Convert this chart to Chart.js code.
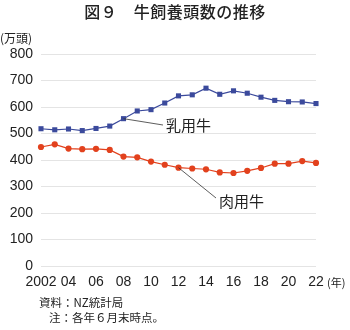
<!DOCTYPE html>
<html>
<head>
<meta charset="utf-8">
<script src="https://cdn.jsdelivr.net/npm/chart.js@4"></script>
<style>
  body { margin: 0; background: #fff; }
  #wrap { position: relative; width: 350px; height: 330px; font-family: "Noto Sans CJK JP", sans-serif; color: #222; }
  #wrap canvas { position: absolute; left: 0; top: 0; }
  .txt { position: absolute; white-space: nowrap; line-height: 1; }
  #title { left: 0; width: 350px; top: 3px; text-align: center; font-size: 16px; font-weight: 500; letter-spacing: 0.5px; }
  #unit { left: 0; top: 32px; font-size: 12px; }
  #nen { left: 327px; top: 277px; font-size: 11px; }
  #lblDairy { left: 166px; top: 117px; font-size: 15px; }
  #lblBeef { left: 219px; top: 193px; font-size: 15px; }
  #src { left: 39px; top: 297px; font-size: 11.5px; }
  #note { left: 49px; top: 312px; font-size: 11.5px; }
</style>
</head>
<body>
<div id="wrap">
  <canvas id="chart" width="350" height="330"></canvas>
  <div class="txt" id="title">図９　牛飼養頭数の推移</div>
  <div class="txt" id="unit">(万頭)</div>
  <div class="txt" id="nen">(年)</div>
  <div class="txt" id="lblDairy">乳用牛</div>
  <div class="txt" id="lblBeef">肉用牛</div>
  <div class="txt" id="src">資料：NZ統計局</div>
  <div class="txt" id="note">注：各年６月末時点。</div>
</div>
<script>
const years = ['2002', '2003', '2004', '2005', '2006', '2007', '2008', '2009', '2010', '2011', '2012',
               '2013', '2014', '2015', '2016', '2017', '2018', '2019', '2020', '2021', '2022'];
const yearLabels = ['2002', '', '04', '', '06', '', '08', '', '10', '', '12',
                    '', '14', '', '16', '', '18', '', '20', '', '22'];
const dairy = [518, 514, 517, 511, 519, 528, 556, 585, 590, 615, 642, 646, 671, 648, 661, 652, 637, 625, 620, 619, 613];
const beef = [449, 459, 443, 441, 442, 438, 413, 410, 394, 382, 371, 368, 365, 353, 351, 359, 370, 386, 386, 396, 389];
const yTicks = [0, 100, 200, 300, 400, 500, 600, 700, 800];

const BLUE = '#3b4a9c';
const RED = '#e2411d';

// leader lines from a data point to its label
const leaderLines = {
    id: 'leaderLines',
    afterDatasetsDraw(chart) {
        const ctx = chart.ctx;
        const x = chart.scales.x, y = chart.scales.y;
        const lines = [
            [x.getPixelForValue(6), y.getPixelForValue(dairy[6]), 163, 125],
            [x.getPixelForValue(10), y.getPixelForValue(beef[10]), 216, 198]
        ];
        ctx.save();
        ctx.strokeStyle = '#333';
        ctx.lineWidth = 0.8;
        lines.forEach(l => {
            ctx.beginPath();
            ctx.moveTo(l[0], l[1]);
            ctx.lineTo(l[2], l[3]);
            ctx.stroke();
        });
        ctx.restore();
    }
};

new Chart(document.getElementById('chart'), {
    type: 'line',
    data: {
        labels: years,
        datasets: [{
            label: '乳用牛',
            data: dairy,
            borderColor: BLUE,
            backgroundColor: BLUE,
            borderWidth: 1.2,
            pointStyle: 'rect',
            pointRadius: 3.6,
            pointBorderWidth: 0,
            tension: 0
        }, {
            label: '肉用牛',
            data: beef,
            borderColor: RED,
            backgroundColor: RED,
            borderWidth: 1.2,
            pointStyle: 'circle',
            pointRadius: 3.1,
            pointBorderWidth: 0,
            tension: 0
        }]
    },
    options: {
        responsive: false,
        animation: false,
        layout: { padding: { left: 0, right: 34, top: 54, bottom: 0 } },
        plugins: { legend: { display: false }, tooltip: { enabled: false } },
        scales: {
            x: {
                offset: false,
                grid: { display: false, drawTicks: false },
                border: { display: false },
                ticks: {
                    autoSkip: false,
                    maxRotation: 0,
                    padding: 8,
                    color: '#222',
                    font: { family: 'Liberation Sans, Arial, sans-serif', size: 14 },
                    callback: (v, i) => yearLabels[i]
                },
                afterFit: s => { s.height = 64; }
            },
            y: {
                min: 0,
                max: 800,
                afterBuildTicks: s => { s.ticks = yTicks.map(v => ({ value: v })); },
                grid: { color: '#e4e4e4', lineWidth: 1, drawTicks: false },
                border: { display: false },
                ticks: {
                    padding: 8,
                    color: '#222',
                    font: { family: 'Liberation Sans, Arial, sans-serif', size: 14 }
                },
                afterFit: s => { s.width = 41; }
            }
        }
    },
    plugins: [leaderLines]
});
</script>
</body>
</html>
